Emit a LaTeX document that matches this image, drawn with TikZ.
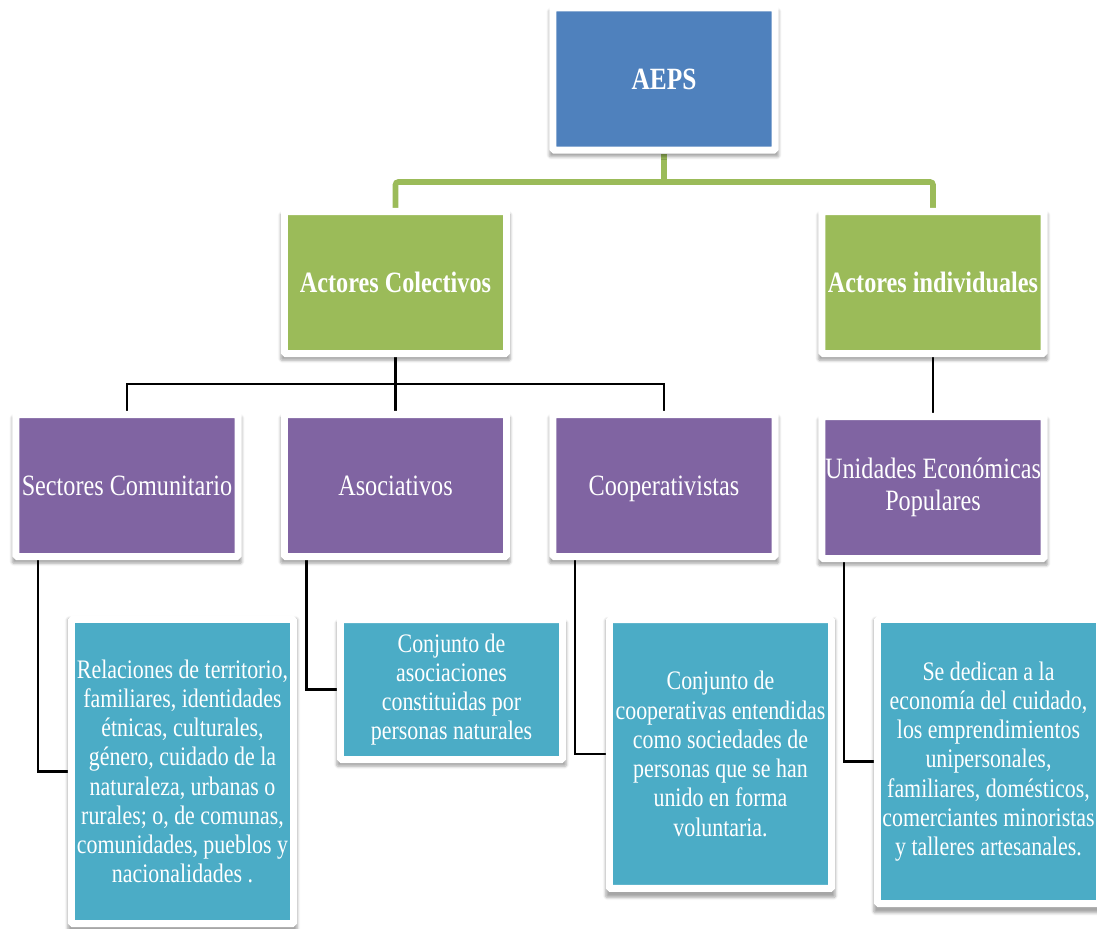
\documentclass[tikz,border=0pt]{standalone}
\usepackage{fontspec}
\setmainfont{Liberation Serif}[FakeStretch=0.82]
\usetikzlibrary{calc,shadows.blur,backgrounds}
\definecolor{aepsblue}{HTML}{4F81BD}
\definecolor{actorgreen}{HTML}{9BBB59}
\definecolor{sectorpurple}{HTML}{8064A2}
\definecolor{noteteal}{HTML}{4BACC6}
\tikzset{
    box/.style={
        draw=white,
        line width=5pt,
        rounded corners=1pt,
        minimum width=5.55cm,
        minimum height=3.55cm,
        inner sep=0pt,
        text=white,
        align=center,
        blur shadow={shadow xshift=0pt, shadow yshift=-3pt, shadow scale=1.035,
            shadow blur steps=6, shadow opacity=35},
    },
    oneline/.style={
        text height=14.8pt,
        text depth=0pt,
    },
    topbox/.style={
        box, oneline,
        fill=aepsblue,
        font=\bfseries\fontsize{22}{26}\selectfont,
    },
    actor/.style={
        box, oneline,
        fill=actorgreen,
        font=\bfseries\fontsize{21}{25}\selectfont,
    },
    sector/.style={
        box,
        fill=sectorpurple,
        font=\fontsize{21}{22.7}\selectfont,
    },
    note/.style={
        box,
        fill=noteteal,
        font=\fontsize{19}{20.8}\selectfont,
    },
    greenlink/.style={
        draw=actorgreen,
        line width=4pt,
        rounded corners=2pt,
    },
    link/.style={
        draw=black,
        line width=2pt,
    },
}
\begin{document}
\begin{tikzpicture}[x=0.025cm, y=-0.025cm]
    \useasboundingbox (0,0) rectangle (1097,928);

    \node[topbox] (aeps) at (664,79) {AEPS};

    \node[actor] (colectivos) at (395.5,282.5) {Actores Colectivos};
    \node[actor] (individuales) at (933,282.5) {Actores individuales};

    \node[sector, oneline] (comunitario) at (127,485.5) {Sectores Comunitario};
    \node[sector, oneline] (asociativos) at (395.5,485.5) {Asociativos};
    \node[sector, oneline] (cooperativistas) at (664,485.5) {Cooperativistas};
    \node[sector] (unidades) at (933,487.5) {Unidades Económicas\\Populares};

    \node[note, minimum height=7.6cm] (relaciones) at (182.5,771.5)
        {Relaciones de territorio,\\familiares, identidades\\étnicas, culturales,\\género, cuidado de la\\naturaleza, urbanas o\\rurales; o, de comunas,\\comunidades, pueblos y\\nacionalidades .};
    \node[note, minimum height=3.5cm] (asociaciones) at (451.5,689.5)
        {Conjunto de\\asociaciones\\constituidas por\\personas naturales};
    \node[note, minimum height=6.72cm] (cooperativas) at (720.5,754)
        {Conjunto de\\cooperativas entendidas\\como sociedades de\\personas que se han\\unido en forma\\voluntaria.};
    \node[note, minimum height=7.1cm] (dedican) at (988.5,761.5)
        {Se dedican a la\\economía del cuidado,\\los emprendimientos\\unipersonales,\\familiares, domésticos,\\comerciantes minoristas\\y talleres artesanales.};

    \begin{scope}[on background layer]
        \coordinate (gbus) at (664,182);
        \coordinate (kbus) at (395.5,384);
        \draw[greenlink] (aeps) -- (gbus);
        \draw[greenlink] (colectivos.north) |- (gbus) -| (individuales.north);

        \draw[link] (colectivos) -- (asociativos);
        \draw[link] (comunitario.north) |- (kbus) -| (cooperativistas.north);
        \draw[link] (individuales) -- (unidades);

        % descriptions hang off the left side
        \draw[link] ($(comunitario.south)+(-89,0)$) |- (relaciones.west);
        \draw[link] ($(asociativos.south)+(-89,0)$) |- (asociaciones.west);
        \draw[link] ($(cooperativistas.south)+(-89,0)$) |- (cooperativas.west);
        \draw[link] ($(unidades.south)+(-89,0)$) |- (dedican.west);
    \end{scope}
\end{tikzpicture}
\end{document}
